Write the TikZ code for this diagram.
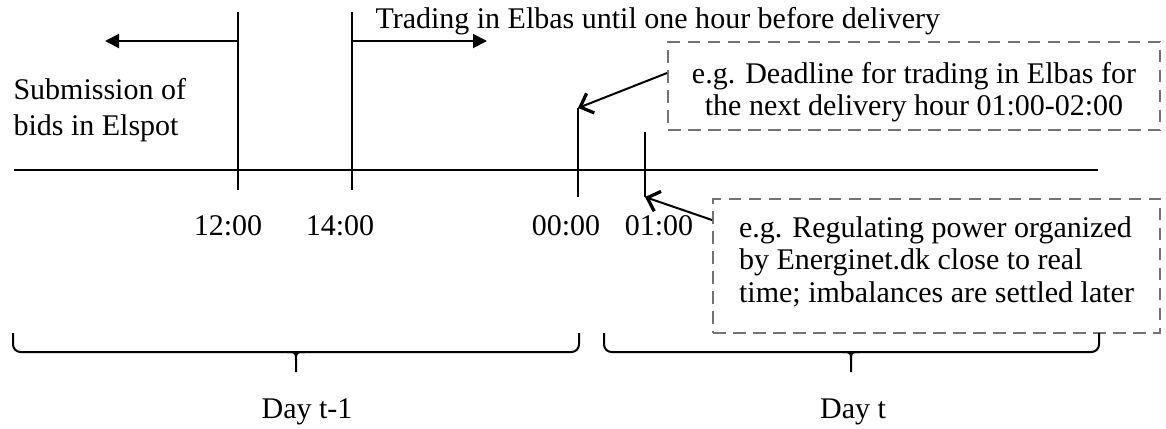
\documentclass[tikz,border=0pt]{standalone}
\usepackage{fontspec}
\setmainfont{Liberation Serif}
\usetikzlibrary{arrows.meta}

\begin{document}
\begin{tikzpicture}[x=0.4pt,y=-0.4pt,
  font=\fontsize{12}{13}\selectfont,
  every node/.style={inner sep=0pt},
  axis/.style={line width=0.8pt},
  tick/.style={line width=0.8pt},
  span/.style={line width=0.8pt,-{Triangle[length=5.6pt,width=5.6pt]}},
  pointer/.style={line width=0.8pt,
    -{Straight Barb[length=4.4pt,width=8.4pt,line width=1.3pt]}},
  note/.style={draw=black!55,dash pattern=on 5pt off 3pt,
    line width=0.8pt},
  time/.style={anchor=base},
  day/.style={line width=0.8pt,rounded corners=3pt}]
\useasboundingbox (0,0) rectangle (1166,428);

% time axis
\coordinate (start) at (14,170);
\coordinate (end) at (1098,170);
\draw[axis] (start) -- (end);

% ticks
\draw[tick] (238,12) -- (238,190);
\draw[tick] (352,12) -- (352,190);
\draw[tick] (578,108) coordinate (t00) -- (578,197);
\draw[tick] (645,132) -- (645,197) coordinate (t01);

% tick labels
\node[time] (l12) at (228,235) {12:00};
\node[time] (l14) at (340,235) {14:00};
\node[time] (l00) at (566,235) {00:00};
\node[time] (l01) at (659,235) {01:00};

% spans before and after the ticks
\coordinate (s12) at (238,41);
\coordinate (s14) at (352,41);
\coordinate (spot) at (105,41);
\coordinate (elbas) at (487,41);
\draw[span] (s12) -- (spot);
\draw[span] (s14) -- (elbas);

\node[anchor=base west,align=left,font=\fontsize{12}{14.4}\selectfont]
  (bids) at (13,135) {Submission of\\bids in Elspot};
\node[anchor=base west] (trading) at (375,28)
  {Trading in Elbas until one hour before delivery};

% notes
\node[note,anchor=base,minimum width=196.8pt,text height=29.2pt,
  text depth=6pt,align=center,font=\fontsize{12}{12.8}\selectfont]
  (deadline) at (914,115)
  {e.g. Deadline for trading in Elbas for\\the next delivery hour 01:00-02:00};
\node[note,anchor=base,minimum width=178.8pt,text height=41.2pt,
  text depth=12.4pt,align=left]
  (regpower) at (936.5,302)
  {e.g. Regulating power organized\\by Energinet.dk close to real\\time; imbalances are settled later};
\draw[pointer] ([yshift=5.2pt]deadline.west) -- (t00);
\draw[pointer] ([yshift=18.4pt]regpower.west) -- (t01);

% days
\foreach \a/\m/\b in {13/296/579, 604/851/1099} {
  \draw[day] (\a,333) |- (\b,352) -- (\b,333);
  \draw[line width=0.8pt] (\m-9,352) .. controls (\m,352) .. (\m,361)
    -- (\m,372) (\m+9,352) .. controls (\m,352) .. (\m,361);
}
\node[time] (dayprev) at (307,418) {Day t-1};
\node[time] (daycur) at (853,418) {Day t};
\end{tikzpicture}
\end{document}
